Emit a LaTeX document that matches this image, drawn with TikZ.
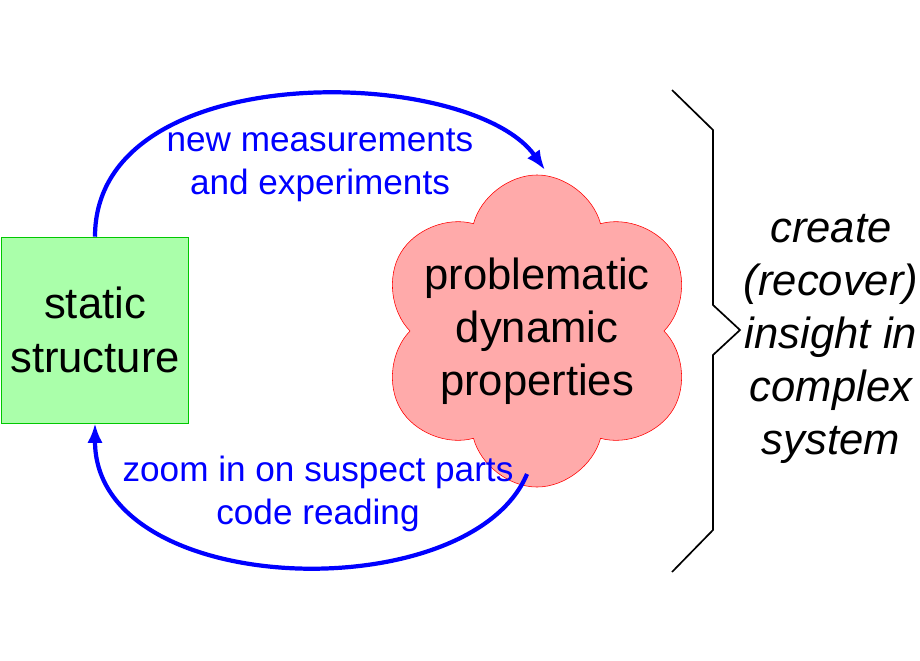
\documentclass[tikz,border=0pt]{standalone}
\usepackage{fontspec}
\setmainfont{Liberation Sans}
\usetikzlibrary{shapes.symbols,arrows.meta}
\definecolor{BoxFill}{RGB}{170,255,170}
\definecolor{BoxDraw}{RGB}{0,200,0}
\definecolor{CloudFill}{RGB}{255,170,170}
\begin{document}
\begin{tikzpicture}[x=0.025cm,y=-0.025cm,
  big/.style={font=\fontsize{31}{38.5}\selectfont,align=center},
  lbl/.style={font=\fontsize{25}{30.5}\selectfont,align=center,text=blue},
  flow/.style={blue,line width=3pt,-{Latex[length=14pt,width=11pt]}}]
\useasboundingbox (0,0) rectangle (920,660);
\node[big,draw=BoxDraw,fill=BoxFill,minimum width=187*0.025cm,minimum height=186*0.025cm,inner sep=0pt] (static) at (95,330) {static\\structure};
\node[cloud,cloud puffs=6,aspect=1,draw=red,fill=CloudFill,minimum width=315*0.025cm,minimum height=312*0.025cm,inner sep=0pt] (dyn) at (537,331) {};
\node[big,font=\fontsize{31}{37.7}\selectfont] (dynlbl) at (dyn.center) {problematic\\dynamic\\properties};
\coordinate (toparr) at (545,170);
\coordinate (botstart) at (527,474);
\draw[flow] (static.north) .. controls (95,55) and (470,65) .. (toparr);
\draw[flow] (botstart) .. controls (470,610) and (95,600) .. (static.south);
\node[lbl] (measure) at (320,165) {new measurements\\and experiments};
\node[lbl] (zoom) at (318,494) {zoom in on suspect parts\\code reading};
\draw[line width=1.2pt] (672,90) -- (713,130) -- (713,305) -- (740,330) -- (713,355) -- (713,530) -- (672,572);
\node[font=\fontsize{31}{37.7}\selectfont\itshape,align=center] (insight) at (831,339) {create\\(recover)\\insight in\\complex\\system};
\end{tikzpicture}
\end{document}
